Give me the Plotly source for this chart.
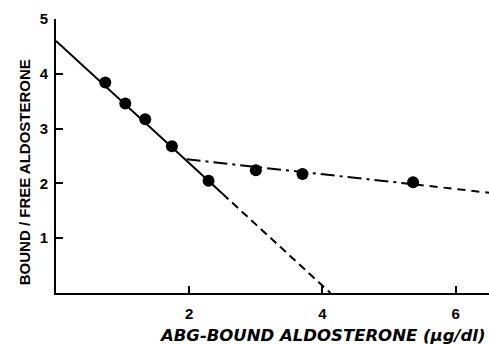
import plotly.graph_objects as go

# data points
pts_x = [0.74, 1.04, 1.34, 1.74, 2.29, 3.00, 3.70, 5.36]
pts_y = [3.84, 3.46, 3.17, 2.68, 2.05, 2.24, 2.17, 2.02]

# fitted lines (endpoints)
solid_x = [0.0, 2.50]
solid_y = [4.60, 1.81]
dash_x = [2.50, 4.12]
dash_y = [1.81, 0.0]
dashdot_x = [1.96, 5.40]
dashdot_y = [2.44, 1.98]
tail_x = [5.40, 6.50]
tail_y = [1.98, 1.83]

x_ticks = [2, 4, 6]
y_ticks = [1, 2, 3, 4, 5]

FONT = "Liberation Sans"
fig = go.Figure()
line = dict(color="black", width=2)
fig.add_trace(go.Scatter(x=solid_x, y=solid_y, mode="lines", line=line))
fig.add_trace(go.Scatter(x=dash_x, y=dash_y, mode="lines", line=dict(color="black", width=2, dash="8px,5px")))
fig.add_trace(go.Scatter(x=dashdot_x, y=dashdot_y, mode="lines", line=dict(color="black", width=2, dash="14px,5px,3px,5px")))
fig.add_trace(go.Scatter(x=tail_x, y=tail_y, mode="lines", line=dict(color="black", width=2, dash="8px,6px")))
fig.add_trace(go.Scatter(x=pts_x, y=pts_y, mode="markers", marker=dict(color="black", size=12)))

axis_common = dict(showline=True, linecolor="black", linewidth=2, ticks="inside",
                   ticklen=7, tickwidth=2, tickcolor="black", showgrid=False, zeroline=False,
                   automargin=False,
                   tickfont=dict(family=FONT, size=15, color="black", weight="bold"))
fig.update_xaxes(range=[0, 6.5], tickvals=x_ticks, ticktext=[str(v) for v in x_ticks],
                 ticklabelstandoff=6, **axis_common)
fig.update_yaxes(range=[0, 5], tickvals=y_ticks, ticktext=[str(v) for v in y_ticks],
                 ticklabelstandoff=3, **axis_common)

fig.add_annotation(text="BOUND / FREE ALDOSTERONE", xref="paper", yref="paper", x=-0.072, y=0.44,
                   textangle=-90, showarrow=False, xanchor="center", yanchor="middle",
                   font=dict(family=FONT, size=15, color="black", weight="bold"))
fig.add_annotation(text="ABG-BOUND ALDOSTERONE (µg/dl)", xref="paper", yref="paper", x=0.615, y=-0.155,
                   showarrow=False, xanchor="center", yanchor="middle",
                   font=dict(family="DejaVu Sans", size=16.5, color="black", weight="bold", style="italic"))

fig.update_layout(width=489, height=344, margin=dict(l=56, r=0, t=19, b=51),
                  paper_bgcolor="white", plot_bgcolor="white", showlegend=False)
fig.write_html("out.html", config={"displayModeBar": False},
               post_script="document.body.style.margin='0';")
